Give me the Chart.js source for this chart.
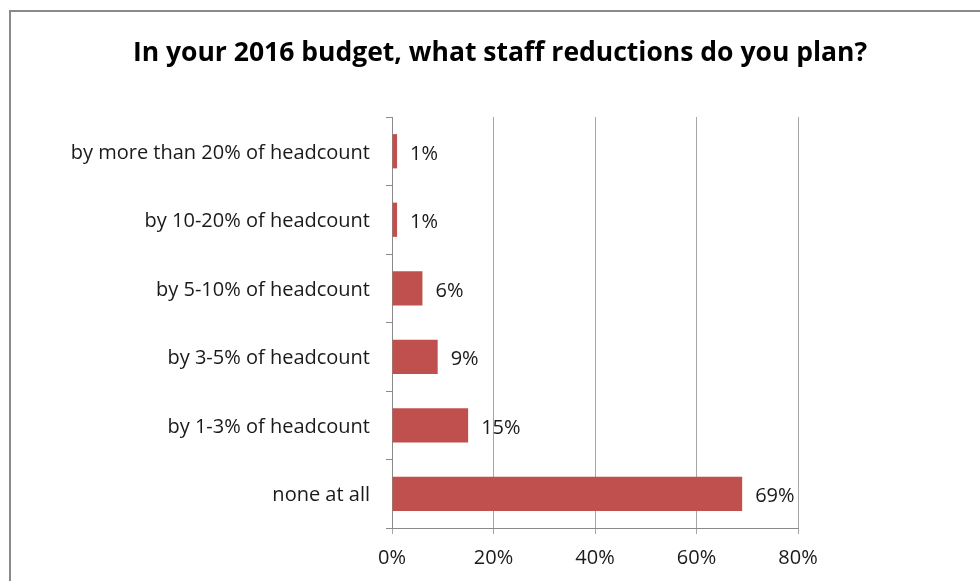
<!DOCTYPE html>
<html>
<head>
<meta charset="utf-8">
<script src="https://cdn.jsdelivr.net/npm/chart.js@4/dist/chart.umd.min.js"></script>
<style>
  html, body { margin: 0; padding: 0; background: #fff; overflow: hidden; }
  #frame {
    position: absolute; left: 9px; top: 10px;
    width: 1000px; height: 600px;
    border: 2px solid #8a8a8a; box-sizing: border-box;
  }
  #wrap { position: absolute; left: 0; top: 0; width: 980px; height: 581px; }
</style>
</head>
<body>
<div id="frame"></div>
<div id="wrap"><canvas id="chart" width="980" height="581"></canvas></div>
<script>
"use strict";

// 質問と回答
const titleText = 'In your 2016 budget, what staff reductions do you plan?';
const categories = [
  'by more than 20% of headcount',
  'by 10-20% of headcount',
  'by 5-10% of headcount',
  'by 3-5% of headcount',
  'by 1-3% of headcount',
  'none at all'
];
const shares = [1, 1, 6, 9, 15, 69];
const tickValues = [0, 20, 40, 60, 80];

const fontFamily = '"Open Sans", sans-serif';

// タイトル（キャンバス全体の中央に描く）
const centeredTitle = {
  id: 'centeredTitle',
  afterDraw(chart) {
    const ctx = chart.ctx;
    ctx.save();
    ctx.font = 'bold 26.5px ' + fontFamily;
    ctx.fillStyle = '#000';
    ctx.textAlign = 'center';
    ctx.textBaseline = 'middle';
    ctx.fillText(titleText, 500, 53);
    ctx.restore();
  }
};

// バーの右側に値を表示するプラグイン
const valueLabels = {
  id: 'valueLabels',
  afterDatasetsDraw(chart) {
    const ctx = chart.ctx;
    const meta = chart.getDatasetMeta(0);
    ctx.save();
    ctx.font = '20px ' + fontFamily;
    ctx.fillStyle = '#1a1a1a';
    ctx.textAlign = 'left';
    ctx.textBaseline = 'middle';
    meta.data.forEach((bar, i) => {
      ctx.fillText(shares[i] + '%', bar.x + 13, bar.y + 3);
    });
    ctx.restore();
  }
};

const context = document.querySelector('#chart').getContext('2d');
new Chart(context, {
  type: 'bar',
  data: {
    labels: categories,
    datasets: [{
      data: shares,
      backgroundColor: '#c0504d',
      categoryPercentage: 1.0,
      barPercentage: 0.5
    }]
  },
  options: {
    indexAxis: 'y',
    responsive: false,
    animation: false,
    layout: { padding: { left: 0, right: 182, top: 117, bottom: 0 } },
    plugins: {
      legend: { display: false },
      tooltip: { enabled: false },
      title: { display: false }
    },
    scales: {
      x: {
        min: 0,
        max: 80,
        afterBuildTicks(scale) {
          scale.ticks = tickValues.map(v => ({ value: v }));
        },
        afterFit(scale) { scale.height = 53; },
        grid: {
          color: '#a6a6a6',
          lineWidth: 1,
          tickLength: 6,
          drawTicks: true
        },
        border: { display: true, color: '#8a8a8a' },
        ticks: {
          callback: v => v + '%',
          color: '#1a1a1a',
          padding: 12,
          maxRotation: 0,
          font: { family: fontFamily, size: 20 }
        }
      },
      y: {
        afterFit(scale) { scale.width = 392; },
        grid: {
          offset: true,
          drawOnChartArea: false,
          tickLength: 6,
          color: '#8a8a8a'
        },
        border: { display: true, color: '#8a8a8a' },
        ticks: {
          color: '#1a1a1a',
          padding: 16,
          labelOffset: 2,
          font: { family: fontFamily, size: 20 }
        }
      }
    }
  },
  plugins: [valueLabels, centeredTitle]
});
</script>
</body>
</html>
